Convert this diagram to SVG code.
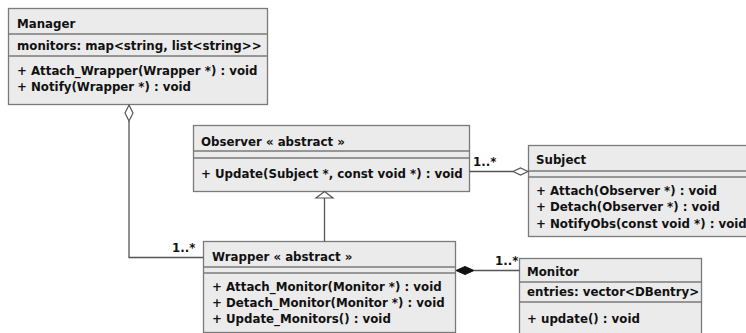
<svg xmlns="http://www.w3.org/2000/svg" width="746" height="333" viewBox="0 0 746 333">
<style>
.box{fill:#ebebeb;stroke:#7a7a7a;stroke-width:1.3}
.sep{stroke:#7a7a7a;stroke-width:1.3}
.t{font-family:"DejaVu Sans",sans-serif;font-weight:bold;font-size:11.8px;fill:#111}
.c{fill:none;stroke:#555;stroke-width:1.3}
</style>
<rect width="746" height="333" fill="#fff"/>
<g id="Manager">
<rect class="box" x="8.5" y="8.5" width="259" height="96"/>
<line class="sep" x1="8.5" y1="34" x2="267.5" y2="34"/>
<line class="sep" x1="8.5" y1="56" x2="267.5" y2="56"/>
<text class="t" x="17" y="28">Manager</text>
<text class="t" x="17" y="50">monitors: map&lt;string, list&lt;string&gt;&gt;</text>
<text class="t" x="17" y="75">+ Attach_Wrapper(Wrapper *) : void</text>
<text class="t" x="17" y="91">+ Notify(Wrapper *) : void</text>
</g>
<g id="Observer">
<rect class="box" x="193.5" y="125.5" width="276" height="66"/>
<line class="sep" x1="193.5" y1="151" x2="469.5" y2="151"/>
<line class="sep" x1="193.5" y1="158" x2="469.5" y2="158"/>
<text class="t" x="201" y="146">Observer « abstract »</text>
<text class="t" x="201" y="178">+ Update(Subject *, const void *) : void</text>
</g>
<g id="Subject">
<rect class="box" x="528.5" y="145.5" width="230" height="91"/>
<line class="sep" x1="528.5" y1="171" x2="758" y2="171"/>
<line class="sep" x1="528.5" y1="177" x2="758" y2="177"/>
<text class="t" x="536" y="164">Subject</text>
<text class="t" x="536" y="195">+ Attach(Observer *) : void</text>
<text class="t" x="536" y="211">+ Detach(Observer *) : void</text>
<text class="t" x="536" y="228">+ NotifyObs(const void *) : void</text>
</g>
<g id="Wrapper">
<rect class="box" x="203.5" y="241.5" width="252" height="91"/>
<line class="sep" x1="203.5" y1="267" x2="455.5" y2="267"/>
<line class="sep" x1="203.5" y1="273" x2="455.5" y2="273"/>
<text class="t" x="212" y="261">Wrapper « abstract »</text>
<text class="t" x="212" y="291">+ Attach_Monitor(Monitor *) : void</text>
<text class="t" x="212" y="307">+ Detach_Monitor(Monitor *) : void</text>
<text class="t" x="212" y="323">+ Update_Monitors() : void</text>
</g>
<g id="Monitor">
<rect class="box" x="519.5" y="258.5" width="182" height="90"/>
<line class="sep" x1="519.5" y1="282" x2="701.5" y2="282"/>
<line class="sep" x1="519.5" y1="302" x2="701.5" y2="302"/>
<text class="t" x="527" y="276">Monitor</text>
<text class="t" x="527" y="296">entries: vector&lt;DBentry&gt;</text>
<text class="t" x="527" y="323">+ update() : void</text>
</g>
<g id="connectors">
<polyline class="c" points="129,121 129,257.5 203.5,257.5"/>
<polygon points="129,105 133,113 129,121 125,113" fill="#fff" stroke="#555" stroke-width="1.2"/>
<text class="t" x="172" y="252">1..*</text>
<line class="c" x1="324.5" y1="198" x2="324.5" y2="241.5"/>
<polygon points="324.5,191.5 333,198 316,198" fill="#fff" stroke="#555" stroke-width="1.2"/>
<line class="c" x1="469.5" y1="171.5" x2="513" y2="171.5"/>
<polygon points="528,171.5 520.5,175 513,171.5 520.5,168" fill="#fff" stroke="#555" stroke-width="1.2"/>
<text class="t" x="473" y="166">1..*</text>
<line class="c" x1="474" y1="270.5" x2="519.5" y2="270.5"/>
<polygon points="456,270.5 465,266.5 474,270.5 465,274.5" fill="#111" stroke="#111" stroke-width="1"/>
<text class="t" x="495" y="265">1..*</text>
</g>
</svg>
